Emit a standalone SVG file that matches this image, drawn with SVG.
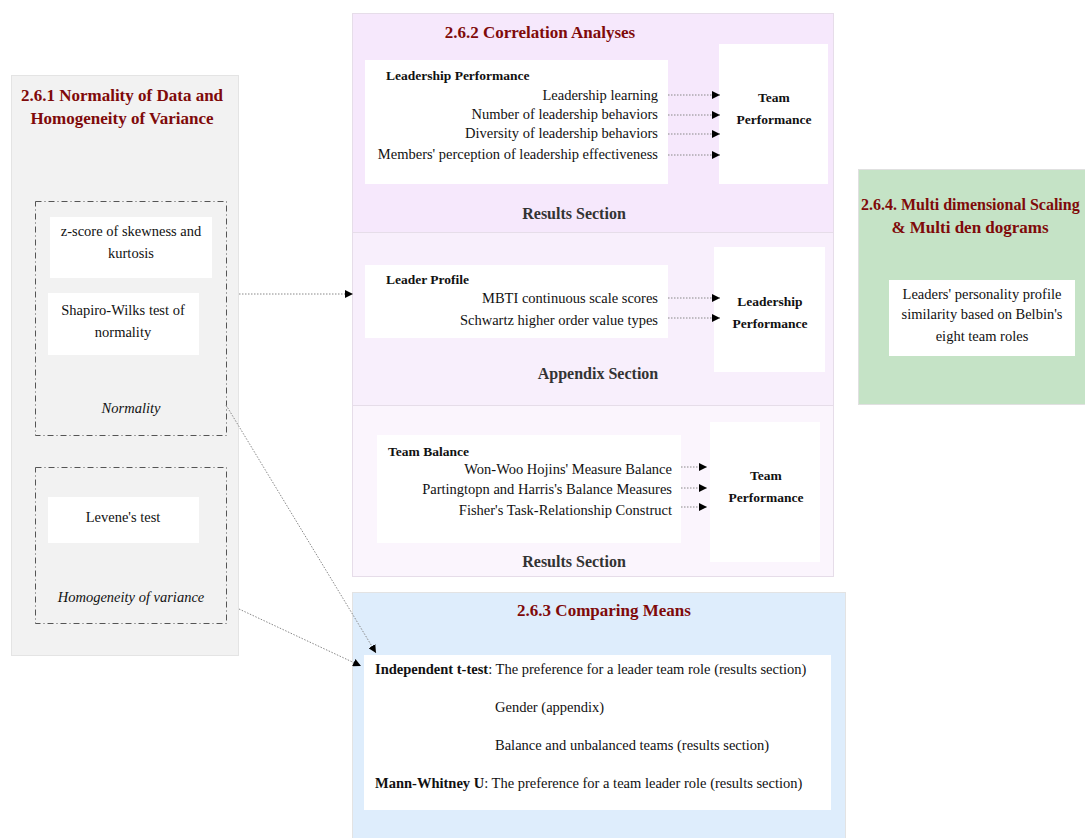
<svg xmlns="http://www.w3.org/2000/svg" width="1085" height="838" viewBox="0 0 1085 838">
  <style>
    .ttl { font-family: "Liberation Serif", "DejaVu Serif", serif; font-weight: bold; font-size: 17px; fill: #7f0a0a; }
    .txt { font-family: "Liberation Serif", "DejaVu Serif", serif; font-size: 14.5px; fill: #111; }
    .bld { font-family: "Liberation Serif", "DejaVu Serif", serif; font-size: 13.5px; font-weight: bold; fill: #111; }
    .em { font-weight: bold; }
    .sec { font-family: "Liberation Serif", "DejaVu Serif", serif; font-size: 16px; font-weight: bold; fill: #333; }
    .ita { font-family: "Liberation Serif", "DejaVu Serif", serif; font-size: 14.5px; font-style: italic; fill: #111; }
    .box { fill: #ffffff; }
    .dash { fill: none; stroke: #555; stroke-width: 1; stroke-dasharray: 6 3 1 3; }
    .link { fill: none; stroke: #888; stroke-width: 1; stroke-dasharray: 1.5 1.5; }
  </style>
  <defs>
    <marker id="arrow" viewBox="0 0 10 10" refX="10" refY="5" markerWidth="8" markerHeight="8" markerUnits="userSpaceOnUse" orient="auto">
      <path d="M0,0 L10,5 L0,10 z" fill="#000"/>
    </marker>
  </defs>

  <rect width="1085" height="838" fill="#ffffff"/>

  <!-- 2.6.1 Normality / homogeneity panel -->
  <g id="normality-panel">
    <rect x="11.5" y="75.5" width="227" height="580" fill="#f2f2f2" stroke="#e4e4e4"/>
    <text class="ttl" x="122" y="101" text-anchor="middle">2.6.1 Normality of Data and</text>
    <text class="ttl" x="122" y="124" text-anchor="middle">Homogeneity of Variance</text>
  </g>
  <g id="normality-group">
    <rect class="dash" x="35.5" y="201.5" width="191" height="234"/>
    <rect class="box" x="50" y="217" width="162" height="61"/>
    <text class="txt" x="131" y="236" text-anchor="middle">z-score of skewness and</text>
    <text class="txt" x="131" y="258" text-anchor="middle">kurtosis</text>
    <rect class="box" x="48" y="293" width="151" height="62"/>
    <text class="txt" x="123" y="315" text-anchor="middle">Shapiro-Wilks test of</text>
    <text class="txt" x="123" y="337" text-anchor="middle">normality</text>
    <text class="ita" x="131" y="413" text-anchor="middle">Normality</text>
  </g>
  <g id="homogeneity-group">
    <rect class="dash" x="35.5" y="467.5" width="191" height="156"/>
    <rect class="box" x="48" y="497" width="151" height="46"/>
    <text class="txt" x="123" y="522" text-anchor="middle">Levene's test</text>
    <text class="ita" x="131" y="602" text-anchor="middle">Homogeneity of variance</text>
  </g>

  <!-- 2.6.2 Correlation analyses panel -->
  <g id="correlation-panel">
    <rect x="352.5" y="13.5" width="481" height="219" fill="#f6e8fc" stroke="#e6dde9"/>
    <rect x="352.5" y="232.5" width="481" height="173" fill="#f8effc" stroke="#e6dde9"/>
    <rect x="352.5" y="405.5" width="481" height="171" fill="#fbf5fd" stroke="#e6dde9"/>
    <text class="ttl" x="540" y="38" text-anchor="middle">2.6.2 Correlation Analyses</text>
  </g>

  <g id="leadership-performance">
    <rect class="box" x="365" y="60" width="303" height="124"/>
    <text class="bld" x="386" y="80">Leadership Performance</text>
    <text class="txt" x="658" y="100" text-anchor="end">Leadership learning</text>
    <text class="txt" x="658" y="119" text-anchor="end">Number of leadership behaviors</text>
    <text class="txt" x="658" y="138" text-anchor="end">Diversity of leadership behaviors</text>
    <text class="txt" x="658" y="159" text-anchor="end">Members' perception of leadership effectiveness</text>
  </g>
  <g id="team-performance-1">
    <rect class="box" x="719" y="44" width="109" height="140"/>
    <text class="bld" x="774" y="102" text-anchor="middle">Team</text>
    <text class="bld" x="774" y="124" text-anchor="middle">Performance</text>
  </g>
  <text class="sec" x="574" y="219" text-anchor="middle">Results Section</text>

  <g id="leader-profile">
    <rect class="box" x="365" y="265" width="303" height="73"/>
    <text class="bld" x="386" y="284">Leader Profile</text>
    <text class="txt" x="658" y="303" text-anchor="end">MBTI continuous scale scores</text>
    <text class="txt" x="658" y="325" text-anchor="end">Schwartz higher order value types</text>
  </g>
  <g id="leadership-performance-2">
    <rect class="box" x="714" y="247" width="111" height="125"/>
    <text class="bld" x="770" y="306" text-anchor="middle">Leadership</text>
    <text class="bld" x="770" y="328" text-anchor="middle">Performance</text>
  </g>
  <text class="sec" x="598" y="379" text-anchor="middle">Appendix Section</text>

  <g id="team-balance">
    <rect class="box" x="377" y="435" width="304" height="108"/>
    <text class="bld" x="388" y="456">Team Balance</text>
    <text class="txt" x="672" y="474" text-anchor="end">Won-Woo Hojins' Measure Balance</text>
    <text class="txt" x="672" y="494" text-anchor="end">Partingtopn and Harris's Balance Measures</text>
    <text class="txt" x="672" y="515" text-anchor="end">Fisher's Task-Relationship Construct</text>
  </g>
  <g id="team-performance-2">
    <rect class="box" x="710" y="422" width="110" height="140"/>
    <text class="bld" x="766" y="480" text-anchor="middle">Team</text>
    <text class="bld" x="766" y="502" text-anchor="middle">Performance</text>
  </g>
  <text class="sec" x="574" y="567" text-anchor="middle">Results Section</text>

  <!-- 2.6.3 Comparing means panel -->
  <g id="comparing-means">
    <rect x="352.5" y="592.5" width="493" height="250" fill="#deedfc" stroke="#e3e3e3"/>
    <text class="ttl" x="604" y="616" text-anchor="middle">2.6.3 Comparing Means</text>
    <rect class="box" x="364" y="655" width="467" height="155"/>
    <text class="txt" x="375" y="674"><tspan class="em">Independent t-test</tspan>: The preference for a leader team role (results section)</text>
    <text class="txt" x="495" y="712">Gender (appendix)</text>
    <text class="txt" x="495" y="750">Balance and unbalanced teams (results section)</text>
    <text class="txt" x="375" y="788"><tspan class="em">Mann-Whitney U</tspan>: The preference for a team leader role (results section)</text>
  </g>

  <!-- 2.6.4 Multidimensional scaling panel (runs past the right edge) -->
  <g id="mds-panel">
    <rect x="858.5" y="169.5" width="240" height="235" fill="#c5e3c6" stroke="#e0e0e0"/>
    <text class="ttl" x="861" y="210" style="font-size:16px">2.6.4. Multi dimensional Scaling</text>
    <text class="ttl" x="970" y="233" text-anchor="middle">&amp; Multi den dograms</text>
    <rect class="box" x="889" y="280" width="186" height="76"/>
    <text class="txt" x="982" y="299" text-anchor="middle">Leaders' personality profile</text>
    <text class="txt" x="982" y="319" text-anchor="middle">similarity based on Belbin's</text>
    <text class="txt" x="982" y="341" text-anchor="middle">eight team roles</text>
  </g>

  <!-- connectors -->
  <g id="connectors">
    <line class="link" x1="668" y1="95" x2="720" y2="95" marker-end="url(#arrow)"/>
    <line class="link" x1="668" y1="115" x2="720" y2="115" marker-end="url(#arrow)"/>
    <line class="link" x1="668" y1="134" x2="720" y2="134" marker-end="url(#arrow)"/>
    <line class="link" x1="668" y1="155" x2="720" y2="155" marker-end="url(#arrow)"/>
    <line class="link" x1="668" y1="298" x2="720" y2="298" marker-end="url(#arrow)"/>
    <line class="link" x1="668" y1="318" x2="720" y2="318" marker-end="url(#arrow)"/>
    <line class="link" x1="681" y1="467" x2="707" y2="467" marker-end="url(#arrow)"/>
    <line class="link" x1="681" y1="488" x2="707" y2="488" marker-end="url(#arrow)"/>
    <line class="link" x1="681" y1="507" x2="707" y2="507" marker-end="url(#arrow)"/>
    <line class="link" x1="239" y1="294" x2="353" y2="294" marker-end="url(#arrow)"/>
    <line class="link" x1="226" y1="405" x2="376" y2="653" marker-end="url(#arrow)"/>
    <line class="link" x1="239" y1="609" x2="361" y2="666" marker-end="url(#arrow)"/>
  </g>
</svg>
